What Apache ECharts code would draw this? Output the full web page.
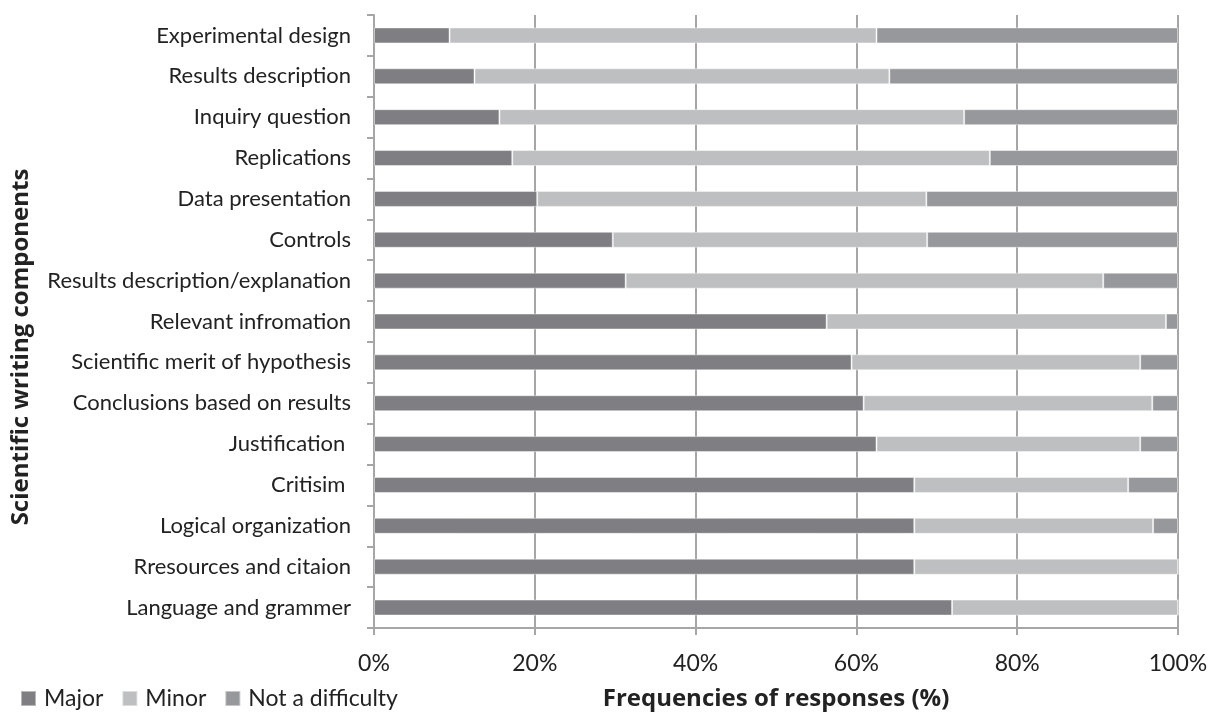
<!DOCTYPE html>
<html>
<head>
<meta charset="utf-8">
<script src="https://cdn.jsdelivr.net/npm/echarts@6/dist/echarts.min.js"></script>
<style>
  html, body { margin: 0; padding: 0; background: #fff; }
  #chart { width: 1211px; height: 716px; }
</style>
</head>
<body>
<div id="chart"></div>
<script>
// Writing components, top to bottom
const categories = [
  'Experimental design',
  'Results description',
  'Inquiry question',
  'Replications',
  'Data presentation',
  'Controls',
  'Results description/explanation',
  'Relevant infromation',
  'Scientific merit of hypothesis',
  'Conclusions based on results',
  'Justification ',
  'Critisim ',
  'Logical organization',
  'Rresources and citaion',
  'Language and grammer'
];

// Share of responses (%) per difficulty level
const major = [9.4, 12.5, 15.6, 17.2, 20.3, 29.7, 31.3, 56.3, 59.4, 60.9, 62.5, 67.2, 67.2, 67.2, 71.9];
const minor = [53.1, 51.6, 57.8, 59.4, 48.4, 39.1, 59.4, 42.2, 35.9, 35.9, 32.8, 26.6, 29.7, 32.8, 28.1];
const notDifficulty = [37.5, 35.9, 26.6, 23.4, 31.3, 31.2, 9.3, 1.5, 4.7, 3.2, 4.7, 6.2, 3.1, 0, 0];

const xTicks = [0, 20, 40, 60, 80, 100];

const FONT = 'Lato';
const TITLE_FONT = 'Open Sans';
const TEXT = '#222';
const AXIS = '#a6a6a6';
const chart = echarts.init(document.getElementById('chart'), null, { renderer: 'canvas' });

const seg = (name, data, color) => ({
  name,
  type: 'bar',
  stack: 'total',
  barWidth: 16,
  data,
  itemStyle: { color, borderColor: 'rgba(255,255,255,0.45)', borderWidth: 1 },
  emphasis: { disabled: true }
});

chart.setOption({
  animation: false,
  textStyle: { fontFamily: FONT },
  grid: { left: 374, right: 33, top: 15, bottom: 87, containLabel: false },
  legend: {
    left: 15,
    top: 682,
    icon: 'rect',
    itemWidth: 15,
    itemHeight: 15,
    itemGap: 18,
    textStyle: { fontFamily: FONT, fontSize: 23, color: TEXT, padding: [0, 0, 0, 3] },
    data: ['Major', 'Minor', 'Not a difficulty']
  },
  // vertical axis title
  graphic: [{
    type: 'text',
    x: 21,
    y: 347,
    rotation: Math.PI / 2,
    style: {
      text: 'Scientific writing components',
      fontFamily: TITLE_FONT,
      fontSize: 24,
      fontWeight: 'bold',
      fill: TEXT,
      align: 'center',
      verticalAlign: 'middle'
    }
  }],
  xAxis: {
    type: 'value',
    min: xTicks[0],
    max: xTicks[xTicks.length - 1],
    interval: xTicks[1] - xTicks[0],
    name: 'Frequencies of responses (%)',
    nameLocation: 'middle',
    nameGap: 59,
    nameTextStyle: { fontFamily: TITLE_FONT, fontSize: 24, fontWeight: 'bold', color: TEXT },
    axisLine: { show: true, lineStyle: { color: AXIS, width: 2 } },
    axisTick: { show: true, length: 7, lineStyle: { color: AXIS, width: 2 } },
    splitLine: { show: true, lineStyle: { color: AXIS, width: 2 } },
    axisLabel: {
      margin: 24,
      fontFamily: FONT, fontSize: 23, color: TEXT,
      formatter: v => v + '%'
    }
  },
  yAxis: {
    type: 'category',
    inverse: true,
    data: categories,
    axisLine: { show: true, lineStyle: { color: AXIS, width: 2 } },
    axisTick: { show: true, length: 7, lineStyle: { color: AXIS, width: 2 } },
    axisLabel: { margin: 23, fontFamily: FONT, fontSize: 22, color: TEXT }
  },
  series: [
    seg('Major', major, '#7f7f83'),
    seg('Minor', minor, '#bebfc1'),
    seg('Not a difficulty', notDifficulty, '#97989c')
  ]
});
</script>
</body>
</html>
